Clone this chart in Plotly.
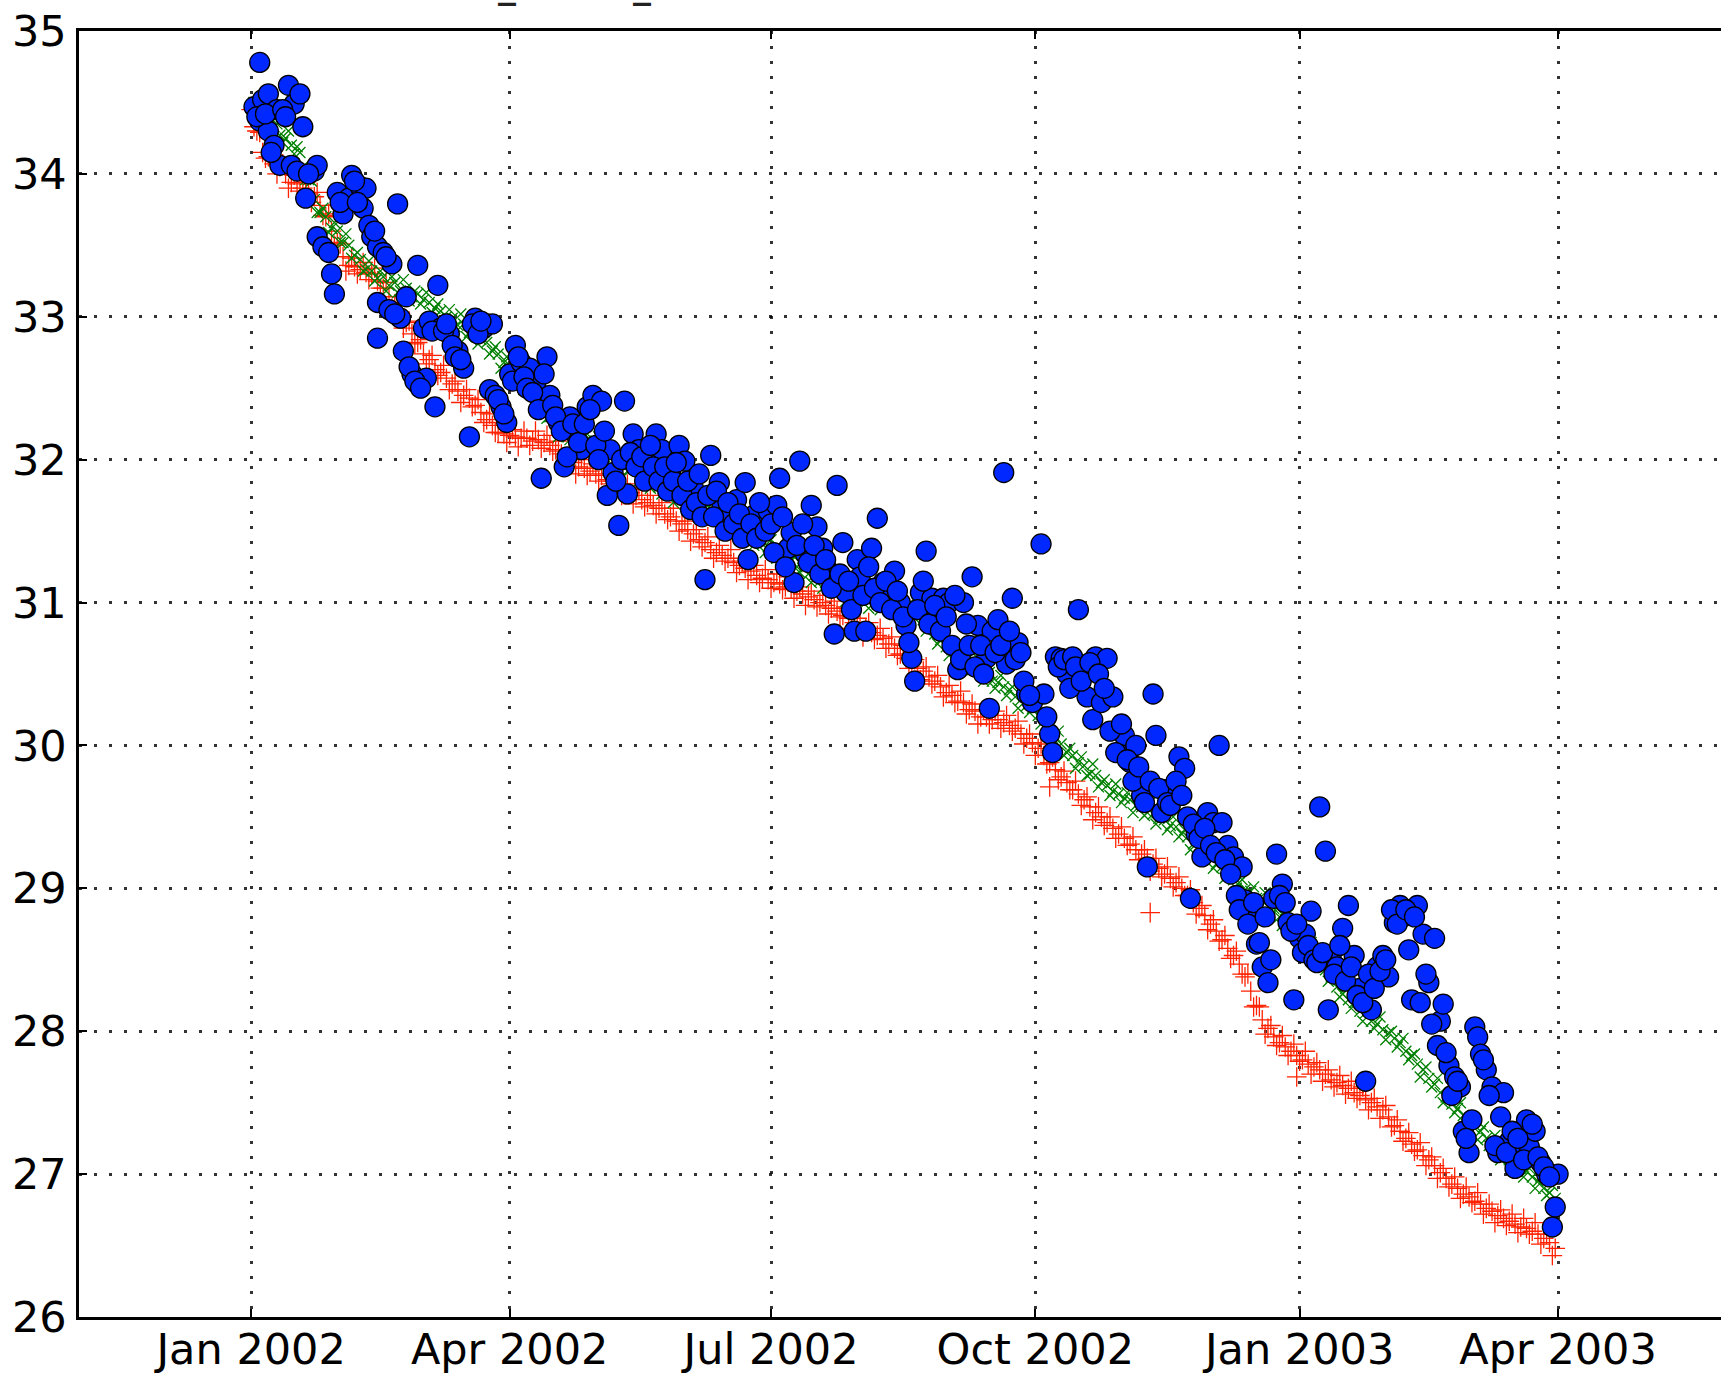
import pandas as pd
import plotly.graph_objects as go

START = pd.Timestamp("2002-01-01")

# axis ticks
x_tick_dates = ["2002-01-01", "2002-04-01", "2002-07-01", "2002-10-01", "2003-01-01", "2003-04-01"]
x_tick_labels = ["Jan 2002", "Apr 2002", "Jul 2002", "Oct 2002", "Jan 2003", "Apr 2003"]
y_ticks = [26, 27, 28, 29, 30, 31, 32, 33, 34, 35]

# green "x" series, even days (0, 2, 4, ...) from 2002-01-01
green_even = [
    34.47, 34.42, 34.40, 34.33, 34.33, 34.27, 34.25, 34.20, 34.19, 34.05,
    33.96, 33.82, 33.73, 33.70, 33.62, 33.60, 33.52, 33.50, 33.43, 33.40,
    33.33, 33.32, 33.27, 33.28, 33.22, 33.24, 33.18, 33.20, 33.14, 33.16,
    33.12, 33.10, 33.06, 33.04, 33.00, 32.99, 32.94, 32.95, 32.89, 32.88,
    32.84, 32.82, 32.76, 32.74, 32.68, 32.66, 32.60, 32.57, 32.52, 32.47,
    32.40, 32.37, 32.30, 32.26, 32.20, 32.16, 32.20, 32.15, 32.18, 32.12,
    32.13, 32.07, 32.06, 32.03, 31.99, 31.98, 31.93, 31.93, 31.88, 31.87,
    31.83, 31.81, 31.80, 31.77, 31.76, 31.73, 31.73, 31.69, 31.69, 31.66,
    31.66, 31.62, 31.62, 31.58, 31.58, 31.55, 31.51, 31.48, 31.43, 31.41,
    31.39, 31.36, 31.35, 31.30, 31.29, 31.25, 31.24, 31.20, 31.19, 31.15,
    31.14, 31.12, 31.11, 31.08, 31.07, 31.04, 31.05, 31.02, 31.02, 30.99,
    31.00, 30.97, 30.98, 30.95, 30.95, 30.92, 30.93, 30.88, 30.83, 30.78,
    30.74, 30.69, 30.67, 30.63, 30.62, 30.57, 30.56, 30.51, 30.50, 30.45,
    30.44, 30.41, 30.39, 30.34, 30.32, 30.28, 30.26, 30.21, 30.20, 30.14,
    30.06, 30.01, 29.95, 29.93, 29.88, 29.86, 29.80, 29.79, 29.74, 29.72,
    29.68, 29.66, 29.63, 29.62, 29.58, 29.57, 29.53, 29.52, 29.49, 29.48,
    29.44, 29.43, 29.38, 29.36, 29.31, 29.29, 29.24, 29.23, 29.17, 29.15,
    29.09, 29.06, 29.04, 28.99, 28.98, 28.93, 28.92, 28.87, 28.86, 28.80,
    28.78, 28.73, 28.71, 28.64, 28.60, 28.53, 28.49, 28.43, 28.38, 28.31,
    28.26, 28.22, 28.20, 28.14, 28.13, 28.07, 28.05, 28.01, 27.99, 27.95,
    27.92, 27.86, 27.83, 27.77, 27.73, 27.67, 27.63, 27.57, 27.54, 27.49,
    27.46, 27.41, 27.38, 27.32, 27.30, 27.25, 27.22, 27.17, 27.15, 27.10,
    27.08, 27.04, 27.02, 26.98, 26.95, 26.90, 26.87, 26.83,
]
# green "x" series, odd days (1, 3, 5, ...)
green_odd = [
    34.50, 34.36, 34.41, 34.26, 34.35, 34.22, 34.30, 34.14, 34.15, 33.96,
    33.95, 33.73, 33.76, 33.59, 33.66, 33.52, 33.58, 33.41, 33.45, 33.32,
    33.39, 33.25, 33.32, 33.18, 33.28, 33.17, 33.26, 33.11, 33.18, 33.09,
    33.17, 33.03, 33.09, 32.95, 33.05, 32.93, 33.02, 32.86, 32.92, 32.81,
    32.89, 32.74, 32.79, 32.64, 32.72, 32.59, 32.66, 32.49, 32.53, 32.39,
    32.45, 32.29, 32.32, 32.16, 32.23, 32.14, 32.25, 32.11, 32.18, 32.08,
    32.16, 32.02, 32.09, 31.94, 32.04, 31.92, 32.00, 31.85, 31.91, 31.80,
    31.88, 31.76, 31.83, 31.70, 31.80, 31.69, 31.78, 31.63, 31.71, 31.61,
    31.70, 31.57, 31.64, 31.51, 31.62, 31.49, 31.57, 31.40, 31.45, 31.35,
    31.44, 31.31, 31.37, 31.23, 31.32, 31.21, 31.29, 31.14, 31.20, 31.10,
    31.19, 31.07, 31.14, 31.01, 31.11, 31.01, 31.11, 30.96, 31.04, 30.95,
    31.05, 30.93, 31.01, 30.88, 30.99, 30.89, 30.98, 30.80, 30.84, 30.71,
    30.78, 30.63, 30.69, 30.56, 30.65, 30.53, 30.61, 30.45, 30.51, 30.40,
    30.49, 30.35, 30.41, 30.26, 30.35, 30.23, 30.31, 30.15, 30.20, 30.05,
    30.10, 29.93, 29.98, 29.84, 29.92, 29.79, 29.87, 29.71, 29.76, 29.65,
    29.73, 29.60, 29.67, 29.53, 29.63, 29.51, 29.60, 29.45, 29.52, 29.41,
    29.50, 29.36, 29.41, 29.27, 29.35, 29.23, 29.31, 29.14, 29.19, 29.07,
    29.14, 29.00, 29.06, 28.92, 29.01, 28.89, 28.97, 28.81, 28.86, 28.74,
    28.82, 28.67, 28.72, 28.55, 28.62, 28.47, 28.53, 28.35, 28.38, 28.24,
    28.30, 28.16, 28.21, 28.07, 28.15, 28.02, 28.10, 27.94, 28.00, 27.89,
    27.95, 27.80, 27.84, 27.68, 27.75, 27.61, 27.67, 27.50, 27.55, 27.43,
    27.50, 27.35, 27.39, 27.24, 27.33, 27.20, 27.27, 27.10, 27.16, 27.04,
    27.12, 26.98, 27.04, 26.90, 26.98, 26.85, 26.92,
]

# red "+" series, even days
red_even = [
    34.45, 34.30, 34.15, 34.12, 34.07, 34.05, 34.00, 33.94, 33.93, 33.90,
    33.86, 33.84, 33.78, 33.70, 33.60, 33.52, 33.42, 33.36, 33.35, 33.33,
    33.31, 33.30, 33.25, 33.20, 33.14, 33.09, 33.02, 32.96, 32.88, 32.82,
    32.74, 32.70, 32.63, 32.61, 32.57, 32.53, 32.48, 32.45, 32.43, 32.38,
    32.33, 32.28, 32.24, 32.19, 32.18, 32.17, 32.16, 32.15, 32.15, 32.13,
    32.14, 32.12, 32.10, 32.07, 32.04, 32.01, 31.98, 31.95, 31.94, 31.92,
    31.90, 31.89, 31.86, 31.85, 31.81, 31.80, 31.77, 31.75, 31.72, 31.70,
    31.68, 31.66, 31.62, 31.60, 31.57, 31.55, 31.51, 31.48, 31.44, 31.42,
    31.37, 31.35, 31.33, 31.31, 31.28, 31.26, 31.24, 31.22, 31.19, 31.17,
    31.16, 31.14, 31.13, 31.11, 31.10, 31.08, 31.06, 31.04, 31.02, 31.00,
    30.98, 30.96, 30.94, 30.91, 30.89, 30.86, 30.84, 30.82, 30.79, 30.77,
    30.75, 30.71, 30.68, 30.64, 30.61, 30.58, 30.54, 30.52, 30.48, 30.45,
    30.41, 30.37, 30.35, 30.31, 30.30, 30.25, 30.24, 30.20, 30.20, 30.18,
    30.18, 30.16, 30.14, 30.12, 30.08, 30.05, 30.02, 29.98, 29.93, 29.88,
    29.83, 29.78, 29.74, 29.69, 29.66, 29.62, 29.57, 29.53, 29.50, 29.46,
    29.42, 29.38, 29.35, 29.31, 29.27, 29.24, 29.21, 29.17, 29.14, 29.10,
    29.07, 29.04, 29.00, 28.95, 28.90, 28.86, 28.81, 28.75, 28.70, 28.64,
    28.58, 28.53, 28.47, 28.38, 28.28, 28.18, 28.08, 28.02, 27.96, 27.92,
    27.89, 27.86, 27.83, 27.80, 27.77, 27.75, 27.73, 27.70, 27.66, 27.64,
    27.62, 27.60, 27.57, 27.55, 27.52, 27.50, 27.47, 27.45, 27.40, 27.34,
    27.30, 27.25, 27.21, 27.17, 27.13, 27.10, 27.06, 27.01, 26.97, 26.93,
    26.90, 26.86, 26.84, 26.81, 26.79, 26.76, 26.74, 26.71, 26.69, 26.67,
    26.65, 26.63, 26.62, 26.60, 26.58, 26.55, 26.52, 26.48,
]
# red "+" series, odd days
red_odd = [
    34.33, 34.29, 34.11, 34.17, 34.00, 34.07, 33.90, 33.99, 33.88, 33.94,
    33.80, 33.87, 33.71, 33.72, 33.50, 33.51, 33.32, 33.41, 33.30, 33.38,
    33.26, 33.34, 33.20, 33.24, 33.06, 33.10, 32.92, 32.97, 32.81, 32.84,
    32.67, 32.73, 32.59, 32.66, 32.49, 32.55, 32.40, 32.49, 32.37, 32.42,
    32.26, 32.32, 32.19, 32.26, 32.12, 32.21, 32.09, 32.20, 32.10, 32.20,
    32.08, 32.17, 32.06, 32.13, 31.97, 32.04, 31.90, 32.00, 31.89, 31.97,
    31.85, 31.94, 31.83, 31.90, 31.75, 31.83, 31.69, 31.79, 31.67, 31.75,
    31.62, 31.70, 31.58, 31.66, 31.50, 31.57, 31.43, 31.51, 31.39, 31.46,
    31.31, 31.40, 31.29, 31.37, 31.21, 31.29, 31.16, 31.26, 31.14, 31.23,
    31.10, 31.20, 31.09, 31.18, 31.03, 31.11, 30.98, 31.08, 30.97, 31.05,
    30.92, 31.01, 30.90, 30.97, 30.82, 30.89, 30.76, 30.86, 30.74, 30.82,
    30.68, 30.76, 30.63, 30.70, 30.54, 30.60, 30.46, 30.55, 30.43, 30.49,
    30.34, 30.42, 30.30, 30.38, 30.22, 30.29, 30.15, 30.25, 30.15, 30.24,
    30.12, 30.21, 30.10, 30.17, 30.01, 30.08, 29.93, 30.01, 29.87, 29.92,
    29.76, 29.82, 29.69, 29.75, 29.58, 29.64, 29.48, 29.57, 29.44, 29.50,
    29.35, 29.43, 29.30, 29.36, 29.20, 29.27, 29.12, 29.21, 29.08, 29.15,
    29.01, 29.08, 28.95, 28.99, 28.82, 28.88, 28.71, 28.78, 28.63, 28.67,
    28.51, 28.56, 28.40, 28.40, 28.17, 28.17, 27.98, 28.04, 27.90, 27.97,
    27.83, 27.91, 27.79, 27.86, 27.70, 27.78, 27.65, 27.73, 27.61, 27.69,
    27.56, 27.65, 27.53, 27.61, 27.45, 27.53, 27.39, 27.48, 27.33, 27.38,
    27.23, 27.29, 27.16, 27.22, 27.06, 27.12, 26.97, 27.04, 26.91, 26.98,
    26.83, 26.91, 26.80, 26.87, 26.72, 26.79, 26.66, 26.75, 26.64, 26.72,
    26.59, 26.69, 26.58, 26.66, 26.51, 26.58, 26.43,
]
red_extra_days = [278, 313, 364]
red_extra_vals = [29.71, 28.83, 27.68]

# blue circles: day offset from 2002-01-01 and value
blue_days = [
    1, 3, 4, 6, 9, 13, 15, 17, 18, 3, 6, 8, 10, 14, 16, 19, 22, 23, 23, 25,
    28, 29, 30, 32, 34, 35, 38, 40, 39, 41, 42, 44, 46, 49, 51, 44, 44, 54, 58, 52,
    53, 56, 58, 61, 64, 60, 62, 65, 66, 69, 72, 74, 76, 78, 81, 82, 84, 83, 85, 87,
    89, 90, 92, 94, 97, 99, 101, 103, 104, 107, 109, 111, 113, 115, 117, 119, 122, 125, 126, 128,
    130, 131, 133, 135, 138, 141, 143, 146, 149, 151, 154, 158, 160, 163, 164, 167, 169, 172, 173, 175,
    178, 180, 183, 184, 187, 188, 189, 191, 193, 195, 197, 199, 201, 203, 204, 206, 207, 210, 211, 212,
    214, 216, 218, 220, 222, 224, 226, 228, 230, 231, 233, 235, 237, 239, 241, 243, 246, 248, 251, 253,
    256, 257, 258, 260, 262, 263, 265, 267, 270, 272, 275, 276, 278, 279, 280, 282, 284, 288, 290, 291,
    293, 294, 296, 298, 300, 302, 304, 306, 308, 310, 312, 314, 315, 317, 318, 321, 323, 325, 327, 329,
    331, 333, 335, 337, 338, 340, 342, 345, 346, 348, 350, 352, 354, 356, 357, 359, 361, 363, 365, 367,
    369, 372, 374, 375, 376, 378, 380, 382, 384, 386, 388, 390, 392, 394, 396, 398, 400, 401, 403, 404,
    406, 408, 410, 412, 414, 415, 417, 419, 421, 422, 424, 425, 426, 427, 428, 430, 432, 434, 436, 438,
    440, 442, 444, 445, 447, 449, 451, 453, 454, 455,
]
blue_vals = [
    34.47, 34.78, 34.52, 34.56, 34.45, 34.62, 34.49, 34.56, 34.33, 34.37, 34.30, 34.20, 34.06, 34.06, 34.02, 33.83, 34.02, 34.06, 33.56, 33.49,
    33.30, 33.16, 33.87, 33.72, 33.83, 33.99, 33.91, 33.90, 33.76, 33.64, 33.56, 33.49, 33.45, 33.37, 33.79, 33.10, 32.85, 33.14, 33.36, 32.99,
    32.76, 32.60, 32.53, 32.57, 32.37, 32.92, 32.97, 33.22, 32.92, 32.88, 32.76, 32.64, 32.16, 32.99, 32.92, 32.95, 32.95, 32.49, 32.45, 32.37,
    32.26, 32.60, 32.80, 32.68, 32.64, 32.53, 31.87, 32.72, 32.45, 32.26, 31.95, 32.30, 32.18, 32.07, 32.37, 32.45, 32.41, 32.07, 31.91, 31.54,
    32.41, 31.76, 32.18, 32.07, 31.99, 32.18, 32.07, 31.91, 32.10, 31.99, 31.80, 31.16, 32.03, 31.84, 31.68, 31.61, 31.72, 31.84, 31.30, 31.61,
    31.53, 31.64, 31.68, 31.87, 31.38, 31.49, 31.14, 31.99, 31.34, 31.68, 31.53, 31.38, 31.22, 30.78, 31.82, 31.42, 31.07, 30.80, 31.30, 31.18,
    30.80, 31.38, 31.59, 31.14, 31.03, 31.22, 31.00, 30.84, 30.61, 30.45, 31.07, 31.36, 31.03, 30.91, 31.03, 31.00, 30.53, 31.00, 31.18, 30.84,
    30.61, 30.26, 30.80, 30.88, 31.91, 30.57, 31.03, 30.72, 30.36, 30.30, 31.41, 30.36, 30.08, 29.95, 30.62, 30.61, 30.50, 30.95, 30.53, 30.34,
    30.18, 30.62, 30.30, 30.61, 30.34, 29.95, 30.07, 29.88, 30.00, 29.65, 29.15, 30.36, 30.07, 29.53, 29.69, 29.69, 29.92, 29.84, 28.93, 29.38,
    29.22, 29.53, 29.46, 30.00, 29.46, 29.30, 29.22, 29.15, 28.92, 28.80, 28.61, 28.45, 28.34, 28.93, 29.24, 29.03, 28.76, 28.22, 28.65, 28.68,
    28.84, 29.57, 29.26, 28.15, 28.53, 28.45, 28.72, 28.88, 28.53, 28.30, 27.65, 28.15, 28.45, 28.53, 28.38, 28.76, 28.88, 28.80, 28.57, 28.22,
    28.88, 28.68, 28.34, 28.65, 28.07, 28.19, 27.76, 27.68, 27.61, 27.30, 27.15, 27.38, 28.03, 27.96, 27.84, 27.73, 27.61, 27.15, 27.57, 27.23,
    27.04, 27.15, 27.38, 27.19, 27.30, 27.08, 27.00, 26.63, 26.77, 27.00,
]
blue_more_days = [
    2, 5, 11, 12, 7, 20, 27, 31, 36, 43, 47, 37,
    48, 50, 55, 57, 59, 63, 67, 68, 70, 71, 73, 77, 79, 80, 86, 88,
    91, 93, 95, 96, 98, 100, 102, 105, 106, 108, 110, 112, 114, 116, 118, 120, 121, 123, 124, 127, 129,
    132, 134, 136, 137, 139, 140, 142, 144, 145, 147, 148, 150, 152, 153, 155, 156, 157, 159, 161, 162, 165, 166, 168, 170, 171, 174,
    176, 177, 179, 181, 182, 185, 186, 190, 192, 194, 196, 198, 200, 202, 205, 208, 209, 213, 215,
    217, 219, 221, 223, 225, 227, 229, 232, 234, 236, 238, 240, 242, 244, 245, 247, 249, 250, 252, 254, 255, 259, 261, 264, 266, 268, 269, 271,
    277, 281, 283, 285, 286, 287, 289, 292, 295, 297, 299, 301, 303, 305, 307, 309, 311, 313, 316, 319, 320, 322, 324, 326, 328,
    330, 332, 334, 336, 339, 341, 343, 344, 347, 349, 351, 353, 355, 358, 360, 362, 364, 366, 368, 370,
    371, 373, 377, 379, 381, 383, 385, 387, 389, 391, 393, 395, 397, 399, 402, 405, 407, 409, 411, 413, 416, 418, 420,
    423, 429, 431, 433, 435, 437, 439, 441, 443, 446, 448, 450, 452,
]
blue_more_vals = [
    34.40, 34.42, 34.45, 34.40, 34.15, 34.00, 33.45, 33.80, 33.95, 33.60, 33.42, 33.80,
    33.05, 33.02, 32.65, 32.55, 32.50, 32.90, 32.90, 32.95, 32.80, 32.72, 32.70, 32.95, 32.88, 32.97, 32.42, 32.32,
    32.55, 32.72, 32.58, 32.50, 32.47, 32.35, 32.60, 32.38, 32.30, 32.20, 32.02, 32.25, 32.12, 32.25, 32.35, 32.10, 32.00, 32.20, 31.75, 31.85, 32.00,
    32.05, 31.95, 32.02, 31.85, 32.10, 31.95, 31.85, 31.95, 31.78, 31.85, 31.98, 31.75, 31.85, 31.65, 31.70, 31.90, 31.60, 31.75, 31.60, 31.78, 31.50, 31.70, 31.55, 31.62, 31.45, 31.55,
    31.45, 31.70, 31.50, 31.55, 31.35, 31.60, 31.25, 31.40, 31.55, 31.28, 31.40, 31.20, 31.30, 31.10, 31.20, 31.15, 30.95, 31.05, 31.25,
    31.10, 31.00, 31.15, 30.95, 31.08, 30.90, 30.72, 30.95, 31.15, 30.85, 30.98, 30.80, 30.90, 30.70, 31.05, 30.60, 30.85, 30.70, 30.55, 30.70, 30.50, 30.65, 30.70, 30.80, 30.60, 30.65, 30.45, 30.35,
    30.20, 30.55, 30.60, 30.40, 30.62, 30.55, 30.45, 30.58, 30.50, 30.40, 30.10, 29.95, 30.15, 29.90, 29.75, 29.85, 29.60, 29.75, 29.70, 29.60, 29.58, 29.75, 29.65, 29.50, 29.45,
    29.35, 29.42, 29.30, 29.25, 29.20, 29.10, 28.95, 28.85, 28.75, 28.90, 28.62, 28.80, 28.50, 28.95, 28.90, 28.70, 28.75, 28.55, 28.60, 28.50,
    28.48, 28.55, 28.40, 28.60, 28.35, 28.45, 28.25, 28.20, 28.40, 28.30, 28.42, 28.50, 28.85, 28.75, 28.85, 28.80, 28.20, 28.40, 28.05, 27.90, 27.85, 27.55, 27.65,
    27.25, 27.80, 27.55, 27.20, 27.40, 27.15, 27.30, 27.25, 27.10, 27.35, 27.12, 27.05, 26.98,
]

assert len(blue_days) == len(blue_vals)
assert len(blue_more_days) == len(blue_more_vals)
assert len(green_odd) == len(green_even) - 1
assert len(red_odd) == len(red_even) - 1

green_day_list = [2 * i for i in range(len(green_even))] + [2 * i + 1 for i in range(len(green_odd))]
green_all = green_even + green_odd
red_day_list = [2 * i for i in range(len(red_even))] + [2 * i + 1 for i in range(len(red_odd))] + red_extra_days
red_all = red_even + red_odd + red_extra_vals
blue_day_list = blue_days + blue_more_days
blue_all = blue_vals + blue_more_vals

green_dates = START + pd.to_timedelta(green_day_list, unit="D")
red_dates = START + pd.to_timedelta(red_day_list, unit="D")
blue_dates = START + pd.to_timedelta(blue_day_list, unit="D")

FONT = "DejaVu Sans"

fig = go.Figure()
fig.add_trace(go.Scatter(
    x=red_dates, y=red_all, mode="markers",
    marker=dict(symbol="cross-thin", size=14, line=dict(color="#ff2200", width=1.3)),
    showlegend=False, hoverinfo="skip"))
fig.add_trace(go.Scatter(
    x=green_dates, y=green_all, mode="markers",
    marker=dict(symbol="x-thin", size=11, line=dict(color="#008000", width=1.3)),
    showlegend=False, hoverinfo="skip"))
fig.add_trace(go.Scatter(
    x=blue_dates, y=blue_all, mode="markers",
    marker=dict(symbol="circle", size=20, color="#0028ff", line=dict(color="black", width=1.3)),
    showlegend=False, hoverinfo="skip"))

grid = dict(showgrid=True, gridcolor="rgba(0,0,0,0.8)", gridwidth=2.5, griddash="3px,12px")

fig.update_layout(
    width=1721, height=1374,
    margin=dict(l=79, r=0, t=31, b=57),
    paper_bgcolor="white", plot_bgcolor="white",
    font=dict(family=FONT, size=43, color="black"),
    showlegend=False,
    xaxis=dict(
        type="date", range=["2001-11-02 02:00", "2003-05-27 17:00"],
        tickvals=x_tick_dates, ticktext=x_tick_labels,
        showline=True, linecolor="black", linewidth=2.5, mirror="ticks",
        ticks="inside", ticklen=8, tickwidth=1.5, tickcolor="black",
        tickfont=dict(family=FONT, size=43, color="black"),
        ticklabelstandoff=-7, automargin=False, zeroline=False, **grid),
    yaxis=dict(
        range=[26, 35], tickvals=y_ticks,
        showline=True, linecolor="black", linewidth=2.5, mirror=False,
        ticks="inside", ticklen=8, tickwidth=1.5, tickcolor="black",
        tickfont=dict(family=FONT, size=43, color="black"),
        ticklabelstandoff=1, automargin=False, zeroline=False, **grid),
)

# bottom edges of the cut-off title's underscores
for xp in [0.254, 0.3362]:
    fig.add_annotation(text="_", xref="paper", yref="paper", x=xp, y=1.0,
                       xanchor="left", yanchor="bottom", yshift=23, showarrow=False,
                       font=dict(family=FONT, size=36, color="#222222", weight="bold"))

fig.write_html("out.html")
